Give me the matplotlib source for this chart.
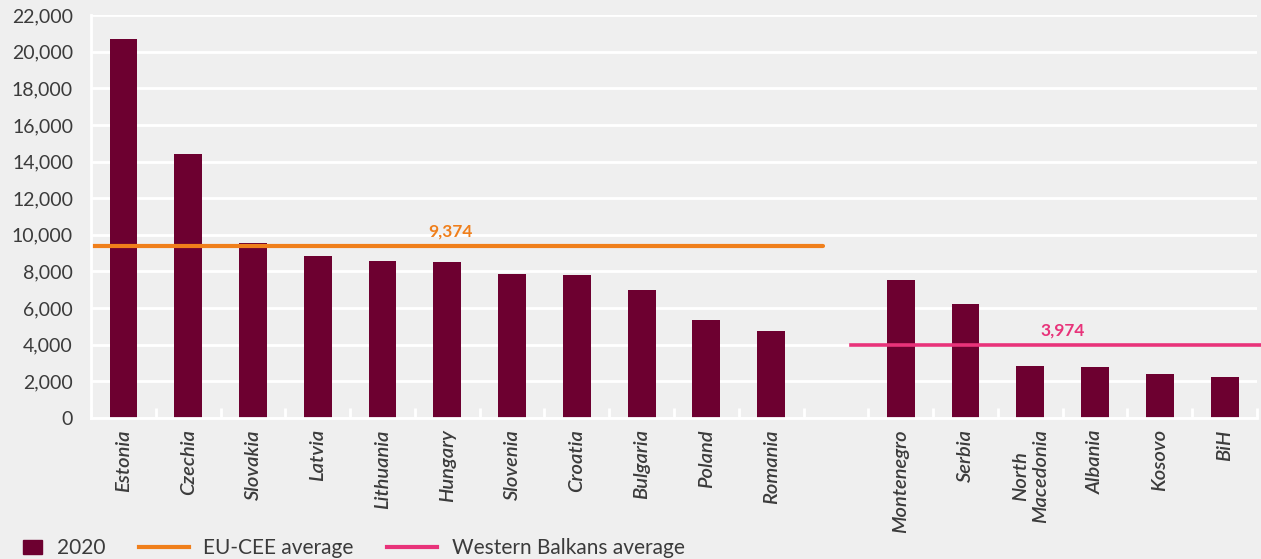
import numpy as np
import matplotlib.pyplot as plt
from matplotlib.lines import Line2D
from matplotlib.patches import Patch, Rectangle
from matplotlib.legend_handler import HandlerPatch

plt.rcParams['font.family'] = ['Lato', 'DejaVu Sans']

# data
eu_countries = ["Estonia", "Czechia", "Slovakia", "Latvia", "Lithuania", "Hungary",
                "Slovenia", "Croatia", "Bulgaria", "Poland", "Romania"]
eu_values = [20700, 14400, 9550, 8850, 8570, 8520, 7860, 7800, 6990, 5350, 4750]
wb_countries = ["Montenegro", "Serbia", "North\nMacedonia", "Albania", "Kosovo", "BiH"]
wb_values = [7530, 6220, 2840, 2780, 2400, 2240]
eu_avg = 9374
wb_avg = 3974
yticks = list(range(0, 22001, 2000))

BAR = "#6D0030"
ORANGE = "#F07F1B"
PINK = "#E8337A"
BG = "#EFEFEF"
TXT = "#3B3B3B"

eu_x = np.arange(len(eu_countries))
wb_x = np.arange(len(wb_countries)) + len(eu_countries) + 1
n_slots = len(eu_countries) + 1 + len(wb_countries)

fig = plt.figure(figsize=(12.61, 5.59), dpi=100, facecolor=BG)
ax = fig.add_axes([0.0722, 0.2522, 0.9246, 0.721])
ax.set_facecolor(BG)

ax.bar(eu_x, eu_values, width=0.43, color=BAR, zorder=3)
ax.bar(wb_x, wb_values, width=0.43, color=BAR, zorder=3)

# average lines
ax.plot([-0.5, 10.8], [eu_avg, eu_avg], color=ORANGE, lw=3, zorder=4,
        solid_capstyle='round')
ax.plot([11.24, 18.7], [wb_avg, wb_avg], color=PINK, lw=2.6, zorder=4,
        clip_on=False)
ax.text(5.05, eu_avg + 350, f"{eu_avg:,}", color=ORANGE, fontsize=12.5,
        fontweight='bold', ha='center', va='bottom')
ax.text(14.5, wb_avg + 350, f"{wb_avg:,}", color=PINK, fontsize=12.5,
        fontweight='bold', ha='center', va='bottom')

ax.set_xlim(-0.5, n_slots - 0.5)
ax.set_ylim(0, 22000)
ax.set_yticks(yticks)
ax.set_yticklabels([f"{v:,}" for v in yticks], fontsize=14, color=TXT)
ax.tick_params(axis='y', length=0, pad=13)

ax.set_xticks(list(eu_x) + list(wb_x))
ax.set_xticklabels(eu_countries + wb_countries, rotation=90, fontsize=14.5,
                   style='italic', fontweight='semibold', color=TXT,
                   multialignment='center')
ax.tick_params(axis='x', which='major', length=0, pad=8)
ax.set_xticks(np.arange(-0.5, n_slots, 1), minor=True)
ax.tick_params(axis='x', which='minor', direction='in', length=7, width=2,
               color='white')

ax.grid(axis='y', color='white', lw=2)
ax.set_axisbelow(True)
for s in ['top', 'right']:
    ax.spines[s].set_visible(False)
for s in ['left', 'bottom']:
    ax.spines[s].set_color('white')
    ax.spines[s].set_linewidth(2)
    ax.spines[s].set_zorder(5)


def small_square(legend, orig_handle, xdescent, ydescent, width, height, fontsize):
    w = height * 1.3
    return Rectangle((-xdescent + width - w, -ydescent), w, height)


handles = [Patch(color=BAR, label="2020"),
           Line2D([], [], color=ORANGE, lw=3, label="EU-CEE average"),
           Line2D([], [], color=PINK, lw=3, label="Western Balkans average")]
fig.legend(handles=handles, loc='lower left', bbox_to_anchor=(-0.021, -0.032),
           ncol=3, frameon=False, fontsize=15, handlelength=2.4,
           handletextpad=0.7, columnspacing=1.6, labelcolor=TXT,
           handler_map={Patch: HandlerPatch(patch_func=small_square)})

fig.savefig("out.png", dpi=100, facecolor=BG)
